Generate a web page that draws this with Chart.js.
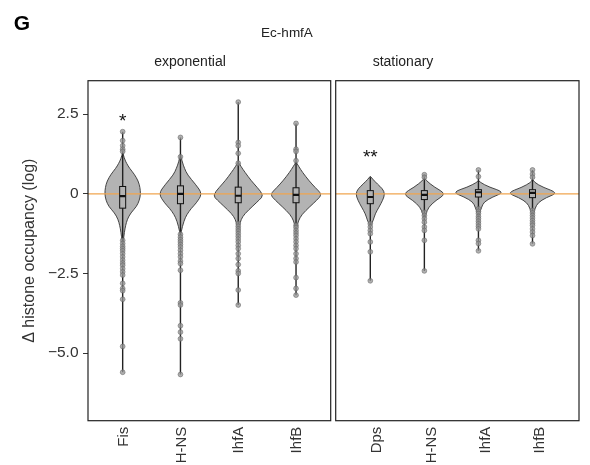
<!DOCTYPE html>
<html>
<head>
<meta charset="utf-8">
<script src="https://cdn.jsdelivr.net/npm/chart.js@4.4.1/dist/chart.umd.min.js"></script>
<style>
  body { margin: 0; background: #fff; font-family: Arial, "Liberation Sans", sans-serif; }
  #wrap { position: relative; width: 590px; height: 465px; overflow: hidden; background: #fff; }
  canvas { position: absolute; top: 0; }
  #left { left: 0; }
  #right { left: 333px; }
  .lbl { position: absolute; color: #222; white-space: nowrap; transform: translate(-50%, -50%); }
</style>
</head>
<body>
<div id="wrap">
  <canvas id="left" width="333" height="465"></canvas>
  <canvas id="right" width="257" height="465"></canvas>
  <div class="lbl" style="left:22px;top:23px;font-size:21px;font-weight:bold;color:#000">G</div>
  <div class="lbl" style="left:287px;top:32px;font-size:13.5px">Ec-hmfA</div>
  <div class="lbl" style="left:190px;top:61px;font-size:14px">exponential</div>
  <div class="lbl" style="left:403px;top:61px;font-size:14px">stationary</div>
</div>
<script>
// y axis
const yMin = -7.12, yMax = 3.55;
const yTicks = [2.5, 0, -2.5, -5.0];
const yTickLabels = ['2.5', '0', '\u22122.5', '\u22125.0'];

// exponential phase
const expCategories = ['Fis', 'H-NS', 'IhfA', 'IhfB'];
// [q1, median, q3]
const expBoxes = [[-0.45, -0.07, 0.23], [-0.31, 0, 0.25], [-0.28, -0.06, 0.21], [-0.28, -0.03, 0.19]];
// [min, max]
const expRanges = [[-5.6, 1.95], [-5.67, 1.77], [-3.49, 2.88], [-3.18, 2.21]];
const expOutliers = [
  [1.95, 1.67, 1.51, 1.4, 1.33, -1.46, -1.56, -1.65, -1.72, -1.79, -1.88, -1.98, -2.08, -2.17, -2.24, -2.35, -2.45, -2.55, -2.81, -2.97, -3.04, -3.31, -4.79, -5.6],
  [1.77, 1.16, -1.27, -1.36, -1.44, -1.51, -1.59, -1.67, -1.77, -1.88, -1.98, -2.11, -2.19, -2.4, -3.42, -3.49, -4.14, -4.34, -4.55, -5.67],
  [2.88, 1.61, 1.51, 1.27, 0.96, -0.94, -1.02, -1.1, -1.17, -1.25, -1.33, -1.42, -1.51, -1.62, -1.72, -1.88, -2.03, -2.22, -2.42, -2.5, -3.02, -3.49],
  [2.21, 1.4, 1.33, 1.04, -0.99, -1.06, -1.15, -1.23, -1.31, -1.41, -1.51, -1.62, -1.72, -1.88, -2.03, -2.14, -2.63, -2.97, -3.18]
];
// violin profiles: [value, half width]
const expViolins = [
  [[1.3, 0], [1.1, 0.03], [0.95, 0.07], [0.8, 0.12], [0.62, 0.2], [0.4, 0.27], [0.2, 0.3], [0, 0.31], [-0.2, 0.29], [-0.4, 0.24], [-0.6, 0.14], [-0.8, 0.08], [-1.0, 0.05], [-1.2, 0.03], [-1.5, 0.01], [-1.7, 0]],
  [[1.25, 0], [1.0, 0.03], [0.8, 0.07], [0.6, 0.12], [0.3, 0.26], [0, 0.38], [-0.3, 0.27], [-0.45, 0.19], [-0.65, 0.11], [-0.85, 0.06], [-1.2, 0.01], [-1.4, 0]],
  [[1.0, 0], [0.85, 0.05], [0.68, 0.115], [0.42, 0.22], [0.2, 0.33], [-0.05, 0.44], [-0.2, 0.36], [-0.37, 0.26], [-0.63, 0.11], [-0.8, 0.05], [-1.0, 0.02], [-1.2, 0]],
  [[1.0, 0], [0.85, 0.05], [0.68, 0.11], [0.42, 0.22], [0.2, 0.33], [-0.02, 0.45], [-0.2, 0.36], [-0.4, 0.24], [-0.65, 0.1], [-0.85, 0.04], [-1.05, 0.015], [-1.2, 0]]
];
const expStars = ['*', '', '', ''];
const expStarY = [2.1, null, null, null];

// stationary phase
const statCategories = ['Dps', 'H-NS', 'IhfA', 'IhfB'];
const statBoxes = [[-0.31, -0.1, 0.1], [-0.18, -0.03, 0.1], [-0.1, 0.05, 0.13], [-0.12, 0.03, 0.13]];
const statRanges = [[-2.73, 0.52], [-2.42, 0.6], [-1.79, 0.75], [-1.57, 0.75]];
const statOutliers = [
  [-0.94, -1.04, -1.15, -1.25, -1.51, -1.82, -2.73],
  [0.6, 0.52, -0.58, -0.68, -0.78, -0.89, -1.04, -1.15, -1.46, -2.42],
  [0.75, 0.54, -0.47, -0.55, -0.62, -0.71, -0.78, -0.86, -0.94, -1.02, -1.1, -1.46, -1.56, -1.79],
  [0.75, 0.62, 0.52, -0.52, -0.6, -0.68, -0.76, -0.84, -0.92, -0.99, -1.1, -1.2, -1.31, -1.57]
];
const statViolins = [
  [[0.55, 0], [0.45, 0.05], [0.31, 0.13], [0.16, 0.225], [0, 0.27], [-0.2, 0.23], [-0.42, 0.16], [-0.63, 0.09], [-0.83, 0.055], [-0.95, 0.02], [-1.05, 0]],
  [[0.5, 0], [0.42, 0.03], [0.21, 0.185], [0, 0.4], [-0.21, 0.21], [-0.42, 0.077], [-0.63, 0.03], [-0.8, 0]],
  [[0.42, 0], [0.36, 0.03], [0.21, 0.2], [0.05, 0.48], [-0.1, 0.26], [-0.26, 0.1], [-0.42, 0.06], [-0.6, 0.02], [-0.75, 0]],
  [[0.45, 0], [0.36, 0.03], [0.2, 0.2], [0.03, 0.47], [-0.12, 0.25], [-0.28, 0.1], [-0.45, 0.05], [-0.6, 0.02], [-0.75, 0]]
];
const statStars = ['**', '', '', ''];
const statStarY = [0.98, null, null, null];

// smooth closed path through pixel points
function smoothPath(ctx, pts) {
  ctx.beginPath();
  ctx.moveTo(pts[0][0], pts[0][1]);
  for (let k = 1; k < pts.length - 1; k++) {
    const mx = (pts[k][0] + pts[k + 1][0]) / 2, my = (pts[k][1] + pts[k + 1][1]) / 2;
    ctx.quadraticCurveTo(pts[k][0], pts[k][1], mx, my);
  }
  ctx.lineTo(pts[pts.length - 1][0], pts[pts.length - 1][1]);
  ctx.closePath();
}

function violinPlugin(g) {
  return {
    id: 'violins',
    beforeDatasetsDraw(chart) {
      const { ctx, chartArea: a, scales: { x, y } } = chart;
      ctx.save();
      ctx.beginPath();
      ctx.rect(a.left, a.top, a.right - a.left, a.bottom - a.top);
      ctx.clip();
      // violins
      g.violins.forEach((shape, i) => {
        const c = i + 1;
        const pts = [];
        shape.forEach(([v, w]) => pts.push([x.getPixelForValue(c + w), y.getPixelForValue(v)]));
        for (let k = shape.length - 1; k >= 0; k--) {
          pts.push([x.getPixelForValue(c - shape[k][1]), y.getPixelForValue(shape[k][0])]);
        }
        smoothPath(ctx, pts);
        ctx.fillStyle = '#b3b3b3';
        ctx.fill();
        ctx.strokeStyle = '#333';
        ctx.lineWidth = 0.9;
        ctx.stroke();
      });
      // range lines
      g.ranges.forEach(([lo, hi], i) => {
        const px = x.getPixelForValue(i + 1);
        ctx.beginPath();
        ctx.moveTo(px, y.getPixelForValue(lo));
        ctx.lineTo(px, y.getPixelForValue(hi));
        ctx.strokeStyle = '#222';
        ctx.lineWidth = 1.4;
        ctx.stroke();
      });
      // zero line
      const z = y.getPixelForValue(0);
      ctx.beginPath();
      ctx.moveTo(a.left, z);
      ctx.lineTo(a.right, z);
      ctx.strokeStyle = '#f0a54f';
      ctx.lineWidth = 1.3;
      ctx.stroke();
      // boxes
      g.boxes.forEach(([q1, med, q3], i) => {
        const px = x.getPixelForValue(i + 1);
        const t = y.getPixelForValue(q3), b = y.getPixelForValue(q1), m = y.getPixelForValue(med);
        ctx.fillStyle = '#b3b3b3';
        ctx.fillRect(px - 3, t, 6, b - t);
        ctx.strokeStyle = '#111';
        ctx.lineWidth = 1;
        ctx.strokeRect(px - 3, t, 6, b - t);
        ctx.beginPath();
        ctx.moveTo(px - 3, m);
        ctx.lineTo(px + 3, m);
        ctx.lineWidth = 2.2;
        ctx.stroke();
      });
      ctx.restore();
    },
    afterDatasetsDraw(chart) {
      const { ctx, chartArea: a, scales: { x, y } } = chart;
      ctx.save();
      // stars
      ctx.fillStyle = '#111';
      ctx.font = '19px Arial, "Liberation Sans", sans-serif';
      ctx.textAlign = 'center';
      ctx.textBaseline = 'alphabetic';
      g.stars.forEach((s, i) => {
        if (s) ctx.fillText(s, x.getPixelForValue(i + 1), y.getPixelForValue(g.starY[i]));
      });
      // panel border
      ctx.strokeStyle = '#222';
      ctx.lineWidth = 1.2;
      ctx.strokeRect(a.left, a.top, a.right - a.left, a.bottom - a.top);
      ctx.restore();
    }
  };
}

function makeChart(id, cats, g, xMin, xMax, showY, padding, labelOffset) {
  const datasets = [{
    data: g.outliers.flatMap((vals, i) => vals.map(v => ({ x: i + 1, y: v }))),
    pointRadius: 2.4,
    pointBackgroundColor: 'rgba(150,150,150,0.75)',
    pointBorderColor: 'rgba(100,100,100,0.8)',
    pointBorderWidth: 0.7
  }];
  return new Chart(document.getElementById(id).getContext('2d'), {
    type: 'scatter',
    data: { datasets },
    options: {
      responsive: false,
      animation: false,
      layout: { padding, autoPadding: false },
      plugins: { legend: { display: false }, tooltip: { enabled: false } },
      scales: {
        x: {
          type: 'linear',
          min: xMin,
          max: xMax,
          afterBuildTicks: s => { s.ticks = cats.map((c, i) => ({ value: i + 1 })); },
          afterFit: s => { s.height = 44.3; s.paddingLeft = 0; s.paddingRight = 0; },
          grid: { display: false, drawTicks: false, tickLength: 0 },
          border: { display: false },
          ticks: {
            autoSkip: false,
            minRotation: 90,
            maxRotation: 90,
            padding: 6,
            labelOffset,
            color: '#333',
            font: { size: 15, family: 'Arial, "Liberation Sans", sans-serif' },
            callback: v => cats[Math.round(v) - 1]
          }
        },
        y: {
          display: showY,
          min: yMin,
          max: yMax,
          afterBuildTicks: s => { s.ticks = yTicks.map(v => ({ value: v })); },
          afterFit: s => { if (showY) s.width = 88; },
          grid: { drawOnChartArea: false, tickLength: 5, color: '#333', lineWidth: 1 },
          border: { display: false },
          title: {
            display: true,
            text: '\u0394 histone occupancy (log)',
            color: '#333',
            padding: { top: 20, bottom: 0 },
            font: { size: 16, family: 'Arial, "Liberation Sans", sans-serif' }
          },
          ticks: {
            padding: 4.5,
            color: '#333',
            font: { size: 15.5, family: 'Arial, "Liberation Sans", sans-serif' },
            callback: (v) => yTickLabels[yTicks.indexOf(v)]
          }
        }
      }
    },
    plugins: [violinPlugin(g)]
  });
}

makeChart('left', expCategories,
  { violins: expViolins, ranges: expRanges, boxes: expBoxes, outliers: expOutliers, stars: expStars, starY: expStarY },
  0.4, 4.6, true, { top: 80.7, right: 2.3, bottom: 0, left: 0 }, 1);

makeChart('right', statCategories,
  { violins: statViolins, ranges: statRanges, boxes: statBoxes, outliers: statOutliers, stars: statStars, starY: statStarY },
  0.36, 4.86, false, { top: 80.7, right: 11, bottom: 0, left: 2.7 }, 7);
</script>
</body>
</html>
